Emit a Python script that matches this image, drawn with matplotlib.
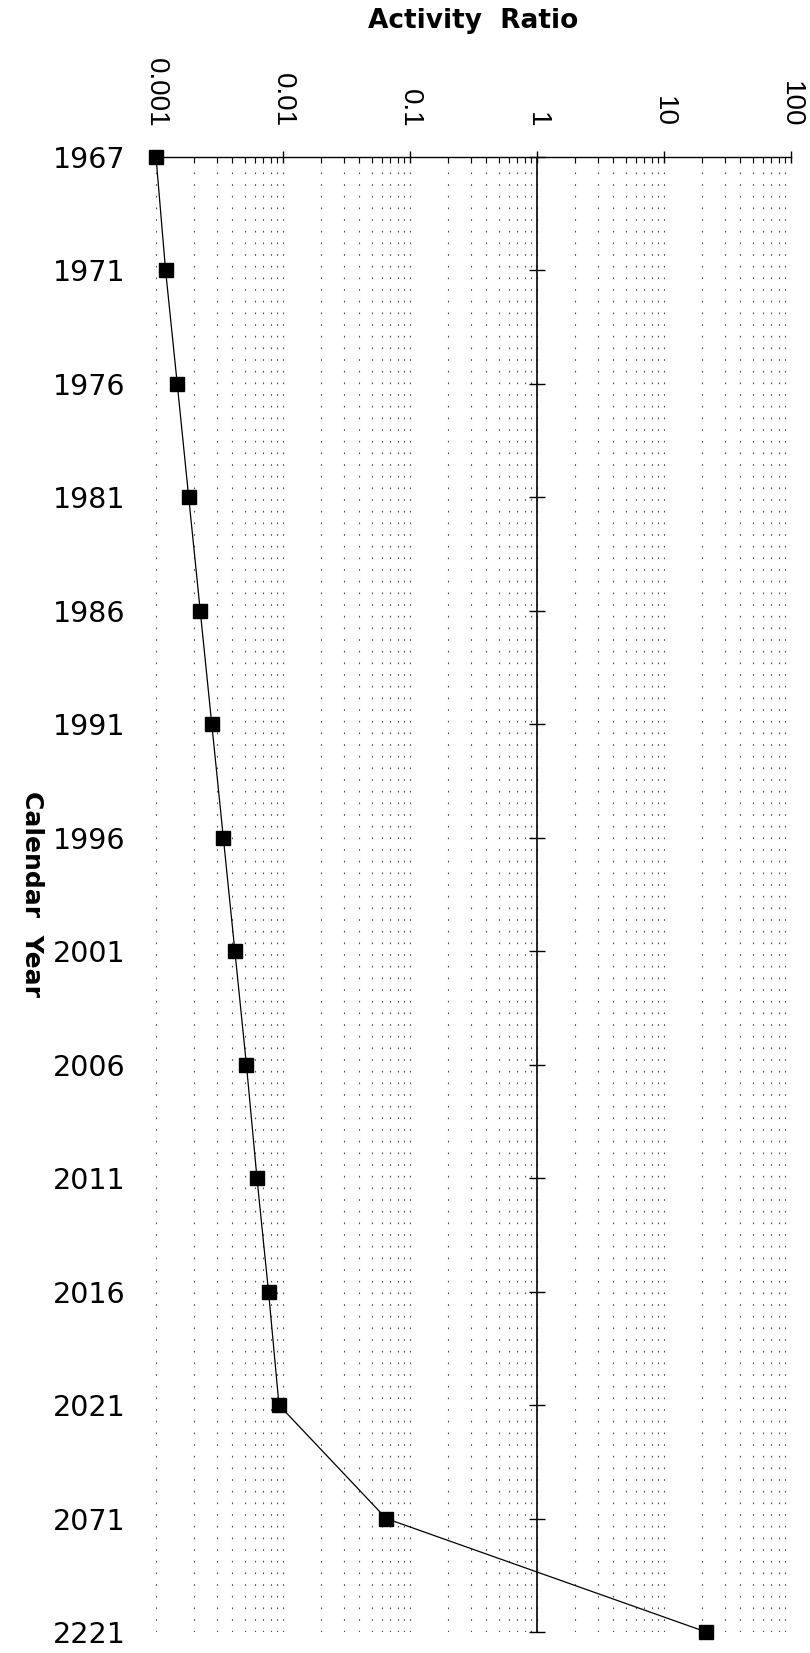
import matplotlib
matplotlib.use("Agg")
import matplotlib.pyplot as plt
from matplotlib.ticker import FixedLocator, NullFormatter, LogLocator

years = ["1967", "1971", "1976", "1981", "1986", "1991", "1996", "2001",
         "2006", "2011", "2016", "2021", "2071", "2221"]
ratios = [0.00100, 0.00119, 0.00147, 0.00181, 0.00223, 0.00275, 0.00339,
          0.00418, 0.00515, 0.00624, 0.00769, 0.0093, 0.065, 21.5]
xticks = [0.001, 0.01, 0.1, 1, 10, 100]
xticklabels = ["0.001", "0.01", "0.1", "1", "10", "100"]

plt.rcParams['font.family'] = ['DejaVu Sans']

W, H = 810, 1653
fig = plt.figure(figsize=(W / 100, H / 100), dpi=100)
left, right, top, bottom = 156, 791, 157, 1632
ax = fig.add_axes([left / W, 1 - bottom / H, (right - left) / W, (bottom - top) / H])

ypos = list(range(len(years)))

ax.set_xscale('log')
ax.set_xlim(xticks[0], xticks[-1])
ax.set_ylim(len(years) - 1, 0)

# dotted grid
ax.xaxis.set_minor_locator(LogLocator(base=10, subs=range(2, 10)))
ax.xaxis.set_minor_formatter(NullFormatter())
ax.grid(which='both', axis='x', linestyle=(0, (1.5, 9.0)), color='black',
        linewidth=0.8, alpha=0.7)

# vertical line at 1 with small year ticks
ax.axvline(1, color='black', linewidth=1.2, zorder=3)
ax.plot([1] * len(ypos), ypos, linestyle='none', marker='_', markersize=11,
        markeredgewidth=1.0, color='black', zorder=3, clip_on=False)

# data
ax.plot(ratios, ypos, color='black', linewidth=0.9, marker='s', markersize=10.5,
        markerfacecolor='black', markeredgecolor='black', zorder=4, clip_on=False)

# axes styling
for s in ['left', 'right', 'bottom']:
    ax.spines[s].set_visible(False)
ax.spines['top'].set_linewidth(1.0)
ax.xaxis.tick_top()
ax.xaxis.set_major_locator(FixedLocator(xticks))
ax.set_xticklabels(xticklabels, family=['Liberation Sans', 'DejaVu Sans'])
ax.tick_params(axis='x', which='major', direction='inout', length=9, width=1.0,
               labelsize=20, pad=17, labelrotation=-90, top=True, bottom=False)
ax.tick_params(axis='x', which='minor', direction='in', length=4, width=0.8,
               top=True, bottom=False)
ax.set_yticks(ypos)
ax.set_yticklabels(years)
ax.tick_params(axis='y', length=0, labelsize=20.5, pad=22)

fig.text(473 / W, 1 - 21 / H, "Activity  Ratio", ha='center', va='center',
         fontsize=19, fontweight='bold')
fig.text(32 / W, 1 - 894 / H, "Calendar  Year", ha='center', va='center',
         fontsize=18, fontweight='bold', rotation=-90)

fig.savefig("out.png", dpi=100)
